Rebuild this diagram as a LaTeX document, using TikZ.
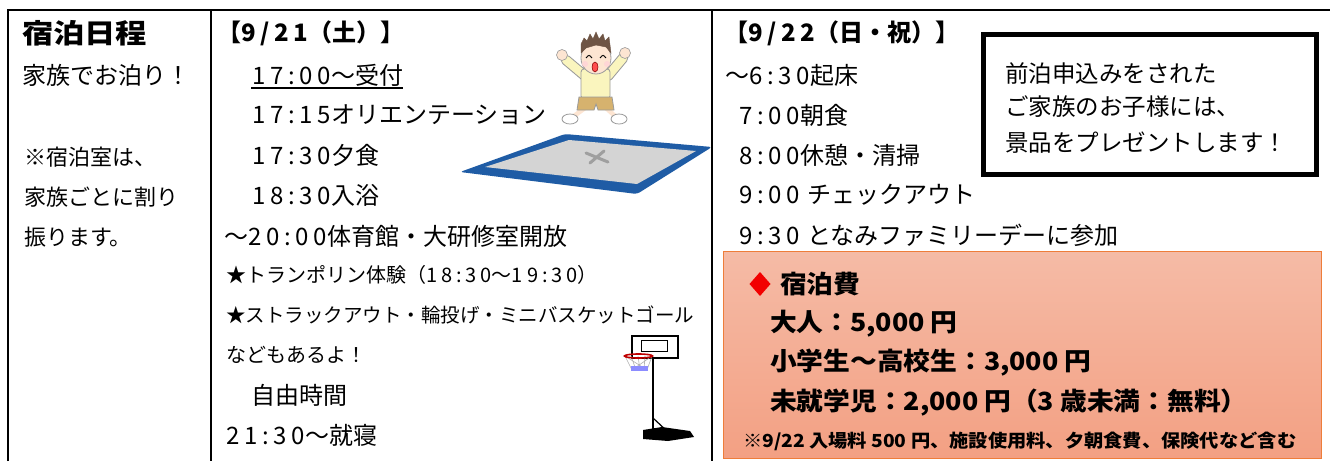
\documentclass[tikz,border=0pt]{standalone}
\usepackage{fontspec}
\setmainfont{Noto Sans CJK JP}
\newfontfamily\numw[LetterSpace=20]{Noto Sans CJK JP}
\newfontfamily\ttlfont[FakeStretch=1.16]{Noto Sans CJK JP}
\newfontfamily\feefont[FakeStretch=1.07]{Noto Sans CJK JP}
\definecolor{tblue}{HTML}{1F5CA5}
\definecolor{tgray}{HTML}{D4D4D4}
\definecolor{skin}{HTML}{FDE5D2}
\definecolor{shirt}{HTML}{FAF5BE}
\definecolor{shorts}{HTML}{D6B26E}
\definecolor{hair}{HTML}{6E5444}
\definecolor{feetop}{HTML}{F5BBA6}
\definecolor{feebot}{HTML}{F3A083}
\definecolor{feeborder}{HTML}{EE7D3A}
\definecolor{outl}{HTML}{9A9A9A}
\tikzset{
  base/.style={anchor=west, inner sep=0pt, outer sep=0pt},
  big/.style={base, font=\fontsize{24}{28}\selectfont},
  head/.style={base, font=\bfseries\fontsize{24}{28}\selectfont},
  small/.style={base, font=\fontsize{22}{26}\selectfont},
  mini/.style={base, font=\fontsize{20}{24}\selectfont},
  prize/.style={base, font=\fontsize{23.5}{28}\selectfont},
  fee/.style={base, font=\feefont\bfseries\fontsize{25}{30}\selectfont},
  feenote/.style={base, font=\feefont\bfseries\fontsize{18}{22}\selectfont},
  rule/.style={line width=2.2pt},
}
\begin{document}
\begin{tikzpicture}[x=1pt,y=-1pt]
\useasboundingbox (0,0) rectangle (1330,461);
\fill[white] (0,0) rectangle (1330,461);
% table
\draw[rule] (8,461) -- (8,10) -- (1330,10);
\draw[rule] (211,10) -- (211,461);
\draw[rule] (712,10) -- (712,461);
% prize box
\node[draw, line width=5pt, minimum width=333pt, minimum height=140pt, inner sep=0pt] (pbox) at (1150,104.5) {};
% fee box
\node[draw=feeborder, line width=1.2pt, top color=feetop, bottom color=feebot, minimum width=598pt, minimum height=207pt, inner sep=0pt, anchor=north west] (fbox) at (723,251) {};
% column 1
\node[base, font=\ttlfont\bfseries\fontsize{27}{30}\selectfont] (ttl) at (22,33) {宿泊日程};
\node[big] (c1a) at (23,75) {家族でお泊り！};
\node[small] (c1b) at (24,157) {※宿泊室は、};
\node[small] (c1c) at (24,197) {家族ごとに割り};
\node[small] (c1d) at (24,237) {振ります。};
% column 2
\node[head] (d1) at (217,33) {【{\numw 9/21}（土）】};
\node[big] (s1) at (252,75) {{\numw 17:00}〜受付};
\node[big] (s2) at (252,115) {{\numw 17:15}オリエンテーション};
\node[big] (s3) at (252,155) {{\numw 17:30}夕食};
\node[big] (s4) at (252,195) {{\numw 18:30}入浴};
\node[big] (s5) at (224,236) {〜{\numw 20:00}体育館・大研修室開放};
\node[mini] (s6) at (226,275) {★トランポリン体験（{\numw 18:30}〜{\numw 19:30}）};
\node[base, font=\fontsize{19.5}{24}\selectfont] (s7) at (226,315) {★ストラックアウト・輪投げ・ミニバスケットゴール};
\node[mini] (s8) at (226,355) {などもあるよ！};
\node[big] (s9) at (251,395) {自由時間};
\node[big] (s10) at (226,435) {{\numw 21:30}〜就寝};
\draw[line width=1.4pt] ([yshift=-2pt,xshift=-1pt]s1.south west) -- ([yshift=-2pt]s1.south east);
% column 3
\node[head] (d2) at (724,33) {【{\numw 9/22}（日・祝）】};
\node[big] (m1) at (725,75) {〜{\numw 6:30}起床};
\node[big] (m2) at (739,115) {{\numw 7:00}朝食};
\node[big] (m3) at (739,155) {{\numw 8:00}休憩・清掃};
\node[big] (m4) at (739,195) {{\numw 9:00}\hspace{7pt}チェックアウト};
\node[big] (m5) at (739,235) {{\numw 9:30}\hspace{7pt}となみファミリーデーに参加};
% prize text
\node[prize] (p1) at (1005,73) {前泊申込みをされた};
\node[prize] (p2) at (1005,107) {ご家族のお子様には、};
\node[prize] (p3) at (1005,143) {景品をプレゼントします！};
% fee text
\fill[red!95!black] (760,272) -- (770.5,284) -- (760,296) -- (749.5,284) -- cycle;
\node[fee] (f0) at (780,284) {宿泊費};
\node[fee] (f1) at (770,324) {大人：5,000 円};
\node[fee] (f2) at (770,363) {小学生〜高校生：3,000 円};
\node[fee] (f3) at (770,403) {未就学児：2,000 円（3 歳未満：無料）};
\node[feenote] (f4) at (743,441) {※9/22 入場料 500 円、施設使用料、夕朝食費、保険代など含む};
% trampoline
\fill[tblue, rounded corners=3pt] (460,172) -- (565,134) -- (712,147) -- (637,194) -- cycle;
\fill[tgray] (485,167) -- (569,140) -- (696,151) -- (637,184) -- cycle;
\draw[gray!75, line width=3pt, line cap=round] (586,153) -- (608,162) (590,163) -- (604,151);
% kid
\draw[outl, line width=10.5pt, line cap=round] (585,76) -- (566,60) (608,76) -- (623,58);
\draw[shirt, line width=8.5pt, line cap=round] (585,76) -- (566,60) (608,76) -- (623,58);
\filldraw[fill=skin, draw=outl, line width=0.6pt] (562,55) circle (5.5) (625,53) circle (5.5);
\draw[skin, line width=4.5pt, line cap=round] (585,108) -- (574,116) (606,108) -- (615,116);
\filldraw[fill=white, draw=outl, line width=0.8pt] (570,119) ellipse (8 and 5) (619,119) ellipse (8 and 5);
\filldraw[fill=shirt, draw=outl, line width=0.8pt, rounded corners=3pt] (581,69) rectangle (610,99);
\filldraw[fill=shorts, draw=outl, line width=0.8pt] (579,97) -- (612,97) -- (614,110) -- (598,110) -- (596,104) -- (594,110) -- (577,110) -- cycle;
\filldraw[fill=skin, draw=outl, line width=0.8pt] (596,58) ellipse (15 and 16);
\filldraw[fill=hair, draw=hair] (581,53) -- (581,44) -- (584,38) -- (587,41) -- (590,34) -- (593,39) -- (596,32) -- (599,39) -- (603,34) -- (605,41) -- (609,37) -- (610,45) -- (611,53) -- (606,47) -- (596,45) -- (586,48) -- cycle;
\draw[line width=0.9pt] (586,58) .. controls (589,54.5) .. (592,58) (600,58) .. controls (603,54.5) .. (606,58);
\fill[pink!80!red!40] (585,64) circle (3) (607,64) circle (3);
\filldraw[fill=red!70, draw=red!50!black, line width=0.5pt] (595,67) ellipse (3 and 5);
% basketball hoop
\draw[black, line width=2pt, fill=white] (632,336) rectangle (678,358);
\draw[black, line width=0.8pt] (641,340) rectangle (667,351);
\draw[black, line width=2.6pt] (653,358) -- (653,433);
\draw[black, line width=1.2pt] (653,418) -- (668,432);
\draw[gray!60, line width=0.6pt] (625,356) -- (632,370) (631,356) -- (636,370) (638,356) -- (640,370) (645,356) -- (644,370) (652,356) -- (647,370) (625,356) -- (647,370) (652,356) -- (632,370);
\fill[blue!45] (631,366) rectangle (648,371);
\draw[red!75!black, line width=1.6pt] (638.5,356) ellipse (14 and 2);
\fill[black] (643,430) -- (662,427) -- (690,431) -- (694,437) -- (668,441) -- (643,439) -- cycle;
\end{tikzpicture}
\end{document}
